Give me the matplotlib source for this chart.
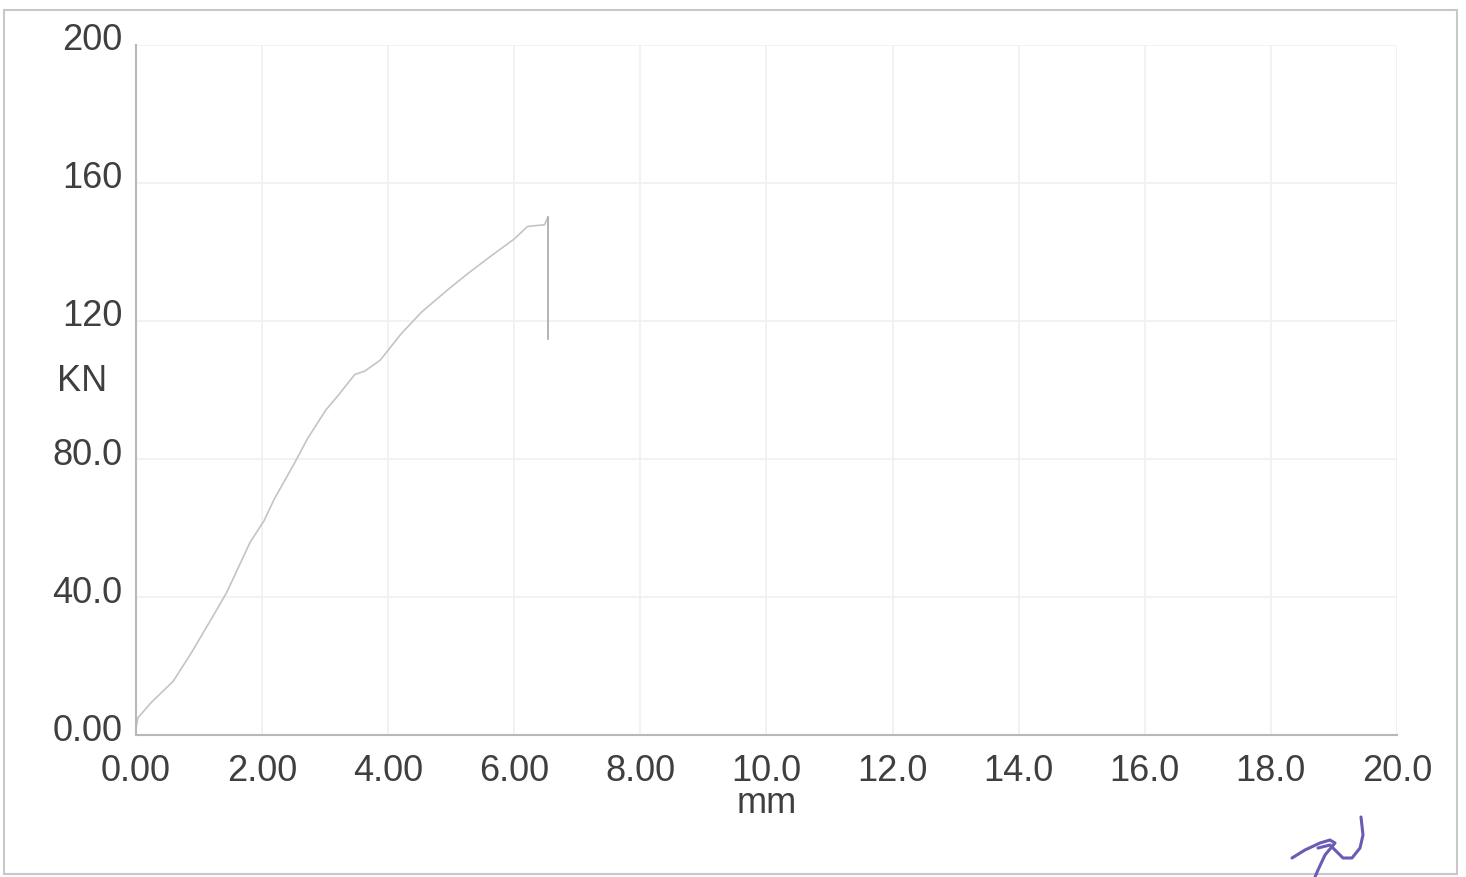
import numpy as np
import matplotlib
matplotlib.use("Agg")
import matplotlib.pyplot as plt
import matplotlib.transforms as mtrans
from matplotlib.patches import Rectangle

plt.rcParams['font.family'] = ['Liberation Sans', 'DejaVu Sans']

# displacement (mm) vs load (KN)
disp = [0.0, 0.03, 0.24, 0.59, 0.88, 1.28, 1.44, 1.81, 2.03, 2.19, 2.51, 2.72,
        3.01, 3.20, 3.47, 3.63, 3.87, 4.21, 4.53, 4.96, 5.28, 5.65, 6.00,
        6.21, 6.48, 6.53]
load = [2.0, 5.0, 9.4, 15.6, 23.9, 36.3, 41.4, 55.9, 62.1, 68.3, 78.7, 85.9,
        94.2, 98.3, 104.5, 105.5, 108.6, 116.4, 122.6, 129.3, 134.0, 139.1, 143.8,
        147.4, 147.9, 150.0]
# drop at failure
drop_x = [6.53, 6.53]
drop_y = [150.0, 114.8]

xticks = [0, 2, 4, 6, 8, 10, 12, 14, 16, 18, 20]
xlabels = ["0.00", "2.00", "4.00", "6.00", "8.00", "10.0", "12.0", "14.0", "16.0", "18.0", "20.0"]
yticks = [0, 40, 80, 120, 160, 200]
ylabels = ["0.00", "40.0", "80.0", "120", "160", "200"]

txt = '#3f3f3f'
fs = 26

fig = plt.figure(figsize=(14.66, 8.77), dpi=100)
ax = fig.add_axes([0.0928, 0.1619, 0.8601, 0.7868])

ax.plot(disp, load, color='#c4c4c4', lw=1.2)
ax.plot(drop_x, drop_y, color='#a8a8a8', lw=1.2)

ax.set_xlim(0, 20)
ax.set_ylim(0, 200)
ax.set_xticks(xticks)
ax.set_xticklabels(xlabels)
ax.set_yticks(yticks)
ax.set_yticklabels(ylabels)
ax.tick_params(length=0, labelsize=fs, colors=txt)
ax.tick_params(axis='x', pad=14)
ax.tick_params(axis='y', pad=10)

# y labels sit a little above their gridlines in the original
off = mtrans.ScaledTranslation(0, 8 / 100, fig.dpi_scale_trans)
for lab in ax.get_yticklabels():
    lab.set_transform(lab.get_transform() + off)

ax.grid(True, color='#f0f0f0', lw=1.2)
for s in ['top', 'right']:
    ax.spines[s].set_visible(False)
for s in ['left', 'bottom']:
    ax.spines[s].set_color('#b8b8b8')
    ax.spines[s].set_linewidth(1.5)

ax.text(0.5, -0.113, "mm", transform=ax.transAxes, ha='center', va='baseline',
        fontsize=fs, color=txt)
ax.text(-0.043, 0.512, "KN", transform=ax.transAxes, ha='center', va='center',
        fontsize=fs, color=txt)

# scanned page border
fig.patches.append(Rectangle((0.003, 0.003), 0.991, 0.986, transform=fig.transFigure,
                             fill=False, edgecolor='#c8c8c8', lw=1.5))

# handwritten initials in the corner
strokes = [
    ([1292, 1305, 1320, 1330, 1335, 1325, 1318, 1315],
     [858, 850, 843, 840, 843, 855, 870, 877]),
    ([1318, 1330, 1343, 1352, 1360, 1363, 1361],
     [848, 845, 858, 858, 848, 835, 817]),
]
for sx, sy in strokes:
    fig.add_artist(plt.Line2D(np.array(sx) / 1466, 1 - np.array(sy) / 877,
                              transform=fig.transFigure, color='#6a5bb5', lw=2.2,
                              solid_capstyle='round', solid_joinstyle='round'))

fig.savefig("out.png", dpi=100)
